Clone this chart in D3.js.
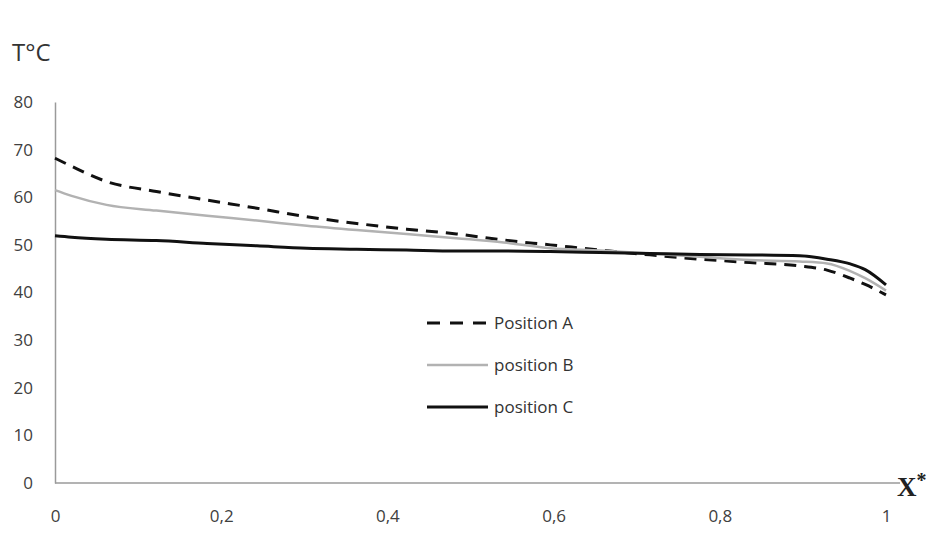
<!DOCTYPE html>
<html>
<head>
<meta charset="utf-8">
<script src="https://cdn.jsdelivr.net/npm/d3@7"></script>
<style>
  html, body { margin: 0; padding: 0; background: #fff; }
  svg { display: block; }
</style>
</head>
<body>
<svg id="chart" width="942" height="558"></svg>
<script>
// Dimensionless position along the section
const xPos = [0, 0.02, 0.062, 0.122, 0.183, 0.243, 0.303, 0.363, 0.423, 0.483, 0.54, 0.596, 0.656, 0.716, 0.776, 0.836, 0.896, 0.929, 0.957, 0.975, 1.0];
// Temperature (°C) for each measuring position
const posA = [68.2, 66.5, 63.3, 61.2, 59.4, 57.7, 55.9, 54.5, 53.3, 52.3, 51.0, 50.0, 48.9, 47.9, 47.0, 46.3, 45.6, 44.7, 43.0, 41.7, 39.5];
const posB = [61.5, 60.3, 58.4, 57.2, 56.1, 55.1, 54.0, 53.1, 52.3, 51.4, 50.5, 49.3, 48.8, 48.2, 47.5, 46.8, 46.5, 46.1, 44.5, 43.0, 40.4];
const posC = [51.9, 51.6, 51.2, 50.9, 50.3, 49.8, 49.3, 49.1, 48.9, 48.7, 48.7, 48.6, 48.4, 48.2, 48.0, 47.9, 47.7, 47.0, 46.0, 44.8, 41.6];

const seriesNames = ["Position A", "position B", "position C"];
const xTicks = [0, 0.2, 0.4, 0.6, 0.8, 1];
const yTicks = [0, 10, 20, 30, 40, 50, 60, 70, 80];

const svg = d3.select("#chart");
const x = d3.scaleLinear().domain([0, 1]).range([55, 886]);
const y = d3.scaleLinear().domain([0, 80]).range([483, 102]);

const axisColor = "#9a9a9a";
const textColor = "#404040";
const fontFam = "'Open Sans', 'DejaVu Sans', sans-serif";

// Y axis
const yAxis = svg.append("g")
  .attr("transform", `translate(${x(0)},0)`)
  .call(d3.axisLeft(y).tickValues(yTicks).tickSize(0).tickPadding(22).tickFormat(d3.format("d")));
yAxis.select(".domain").attr("stroke", axisColor).attr("stroke-width", 1.5);
yAxis.selectAll("text").attr("fill", textColor).style("font-family", fontFam).style("font-size", "17px");

// X axis (line runs a bit past x*=1)
svg.append("line")
  .attr("x1", x(0)).attr("x2", 900)
  .attr("y1", y(0)).attr("y2", y(0))
  .attr("stroke", axisColor).attr("stroke-width", 1.5);
const xAxis = svg.append("g")
  .attr("transform", `translate(0,${y(0)})`)
  .call(d3.axisBottom(x).tickValues(xTicks).tickSize(0).tickPadding(27)
    .tickFormat(d => d === 0 || d === 1 ? String(d) : d3.format(".1f")(d).replace(".", ",")));
xAxis.select(".domain").remove();
xAxis.selectAll("text").attr("fill", textColor).style("font-family", fontFam).style("font-size", "17px");

// Axis titles
svg.append("text")
  .attr("x", 12).attr("y", 61)
  .attr("fill", "#333")
  .style("font-family", fontFam).style("font-size", "24px")
  .text("T°C");
const xt = svg.append("text")
  .attr("x", 897).attr("y", 496)
  .attr("fill", "#222")
  .style("font-family", "'Liberation Serif', 'DejaVu Serif', serif").style("font-size", "27px")
  .style("font-weight", "bold")
  .text("X");
xt.append("tspan").attr("dy", -9).style("font-size", "20px").text("*");

// Lines
const line = vals => d3.line()
  .x((d, i) => x(xPos[i]))
  .y(d => y(d))
  .curve(d3.curveMonotoneX)(vals);

const styles = [
  { data: posA, stroke: "#111", width: 3, dash: "12,8" },
  { data: posB, stroke: "#b2b2b2", width: 2.5, dash: null },
  { data: posC, stroke: "#111", width: 3, dash: null }
];

styles.forEach(s => {
  svg.append("path")
    .attr("d", line(s.data))
    .attr("fill", "none")
    .attr("stroke", s.stroke)
    .attr("stroke-width", s.width)
    .attr("stroke-dasharray", s.dash);
});

// Legend
const legendY = [323, 365, 407];
styles.forEach((s, i) => {
  svg.append("line")
    .attr("x1", 427).attr("x2", 488)
    .attr("y1", legendY[i]).attr("y2", legendY[i])
    .attr("stroke", s.stroke).attr("stroke-width", s.width)
    .attr("stroke-dasharray", s.dash ? "13,10" : null);
  svg.append("text")
    .attr("x", 494).attr("y", legendY[i] + 6)
    .attr("fill", "#333")
    .style("font-family", fontFam).style("font-size", "17px")
    .text(seriesNames[i]);
});
</script>
</body>
</html>
